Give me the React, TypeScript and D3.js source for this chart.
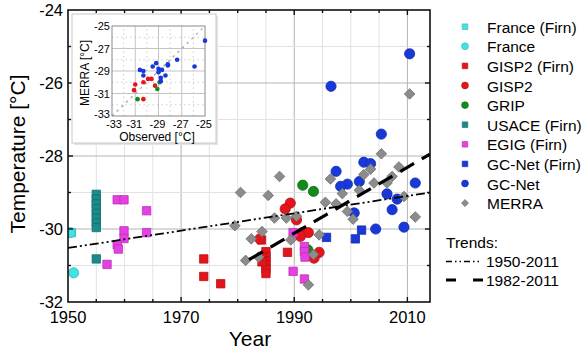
import React, { useEffect, useRef } from "react";
import * as d3 from "d3";

type Pt = [number, number];

// main plot: [year, temperature]
const franceFirn: Pt[] = [[1950.6, -30.1]];
const france: Pt[] = [[1950.4, -30.1], [1951.0, -31.2]];
const gisp2Firn: Pt[] = [
  [1974, -30.82], [1974, -31.3], [1977, -31.5], [1985, -30.62], [1985, -30.75],
  [1985, -30.87], [1985, -30.98], [1985, -31.1], [1985, -31.22], [1984.3, -30.77],
  [1984.3, -30.9], [1988.8, -30.64], [1984.2, -30.3],
];
const gisp2: Pt[] = [
  [1989.3, -29.29], [1988.4, -29.45], [1990.4, -29.75], [1991.4, -30.1], [1992.5, -30.1],
  [1991.1, -30.2], [1994.4, -30.64], [1993.5, -30.8], [1983.9, -30.27],
];
const grip: Pt[] = [[1991.5, -28.8], [1993.4, -28.97], [1992.4, -30.57]];
const usaceFirn: Pt[] = [
  [1955, -29.05], [1955, -29.18], [1955, -29.31], [1955, -29.44], [1955, -29.57],
  [1955, -29.7], [1955, -29.83], [1955, -29.96], [1955, -30.82],
];
const egigFirn: Pt[] = [
  [1958.7, -29.2], [1959.9, -29.2], [1963.9, -29.5], [1959.9, -30.05], [1963.9, -30.1],
  [1959.9, -30.26], [1958.7, -30.43], [1958.9, -30.55], [1956.9, -30.97],
  [1989.8, -30.1], [1991.8, -30.48], [1991.8, -30.62], [1991.9, -30.77], [1989.8, -31.16],
  [1991.8, -31.37],
];
const gcnetFirn: Pt[] = [[1995.7, -30.23], [2001.9, -30.03], [2000.8, -30.27]];
const gcnet: Pt[] = [
  [2010.4, -25.2], [1996.5, -26.09], [2005.4, -27.4], [2002.3, -28.17], [2003.5, -28.21],
  [1997.4, -28.42], [1999.4, -28.77], [1998.2, -28.83], [2001.5, -28.7], [2011.4, -28.74],
  [2006.4, -29.04], [2008.2, -29.18], [2007.3, -29.47], [2000.6, -29.56], [2004.4, -30.0],
  [2009.4, -29.95],
];
const merra: Pt[] = [
  [2010.4, -26.3], [2005.4, -27.94], [1987.4, -28.56], [1980.5, -29.0], [1985.4, -29.08],
  [1996.4, -28.63], [2002.3, -28.51], [2003.5, -28.36], [2007.3, -28.56], [2008.5, -28.3],
  [2006.4, -28.74], [2004.1, -28.74], [1998.5, -29.03], [2001.5, -28.94], [1995.5, -29.27],
  [1997.4, -29.31], [1999.4, -29.52], [2000.4, -29.73], [2009.4, -29.11], [2011.4, -29.67],
  [1986.5, -29.7], [1988.6, -29.7], [1990.4, -29.65], [1979.5, -29.91], [1984.3, -30.07],
  [1982.4, -30.27], [1989.4, -30.3], [1994.4, -30.16], [1981.4, -30.86], [1983.7, -30.77],
  [1993.4, -30.7], [1992.5, -31.53],
];
const trendAll: Pt[] = [[1950, -30.52], [2014, -29.0]];
const trendRecent: Pt[] = [[1982, -30.84], [2014, -27.95]];

// inset: [observed, MERRA]
const insetGcnet: Pt[] = [
  [-25.0, -26.3], [-25.9, -28.6], [-27.4, -28.0], [-28.2, -28.5], [-28.2, -28.4],
  [-29.2, -28.3], [-29.5, -28.6], [-29.0, -28.8], [-28.7, -28.9], [-29.0, -29.1],
  [-30.6, -28.9], [-30.3, -29.0], [-30.3, -29.4], [-28.8, -29.6], [-28.8, -29.9],
  [-28.4, -29.4],
];
const insetGisp2: Pt[] = [
  [-31.0, -30.2], [-30.3, -30.0], [-29.9, -29.7], [-29.6, -29.7], [-29.3, -30.3],
  [-30.3, -31.5], [-31.1, -30.7],
];
const insetGrip: Pt[] = [[-30.8, -31.5], [-29.1, -30.6], [-28.9, -30.0]];

const yearTicks = [1950, 1970, 1990, 2010];
const tempTicks = [-32, -30, -28, -26, -24];
const insetTicks = [-33, -31, -29, -27, -25];

const series = [
  { name: "France (Firn)", data: franceFirn, shape: "square", color: "#40e2e6" },
  { name: "France", data: france, shape: "circle", color: "#40e2e6" },
  { name: "GISP2 (Firn)", data: gisp2Firn, shape: "square", color: "#e3141c" },
  { name: "GISP2", data: gisp2, shape: "circle", color: "#e3141c" },
  { name: "GRIP", data: grip, shape: "circle", color: "#138a1c" },
  { name: "USACE (Firn)", data: usaceFirn, shape: "square", color: "#1b8a8a" },
  { name: "EGIG (Firn)", data: egigFirn, shape: "square", color: "#e63fe2" },
  { name: "GC-Net (Firn)", data: gcnetFirn, shape: "square", color: "#1838d8" },
  { name: "GC-Net", data: gcnet, shape: "circle", color: "#1838d8" },
  { name: "MERRA", data: merra, shape: "diamond", color: "#8c8c8c" },
];

const FONT = "'Liberation Sans', Arial, sans-serif";

const symbolPath = (shape: string, scale = 1) => {
  if (shape === "circle") return d3.symbol().type(d3.symbolCircle).size(82 * scale)()!;
  if (shape === "diamond") return d3.symbol().type(d3.symbolSquare).size(56 * scale)()!;
  return d3.symbol().type(d3.symbolSquare).size(70 * scale)()!;
};

const App = () => {
  const ref = useRef<SVGSVGElement>(null);

  useEffect(() => {
    drawChart();
  }, []);

  const drawChart = () => {
    const svg = d3.select(ref.current);
    svg.selectAll("*").remove();

    const left = 68, right = 430, top = 10, bottom = 302;
    const x = d3.scaleLinear().domain([1950, 2014]).range([left, right]);
    const y = d3.scaleLinear().domain([-32, -24]).range([bottom, top]);

    svg.append("rect").attr("width", 588).attr("height", 352).attr("fill", "#fff");

    // grid
    const grid = svg.append("g");
    d3.range(1955, 2014, 5).forEach((yr) => {
      grid.append("line")
        .attr("x1", x(yr)).attr("x2", x(yr)).attr("y1", top).attr("y2", bottom)
        .attr("stroke", yearTicks.includes(yr) ? "#b4b4b4" : "#e2e2e2").attr("stroke-width", 1);
    });
    d3.range(-31, -24, 1).forEach((t) => {
      grid.append("line")
        .attr("x1", left).attr("x2", right).attr("y1", y(t)).attr("y2", y(t))
        .attr("stroke", tempTicks.includes(t) ? "#b4b4b4" : "#e2e2e2").attr("stroke-width", 1);
    });

    svg.append("clipPath").attr("id", "plotClip")
      .append("rect").attr("x", left).attr("y", top).attr("width", right - left).attr("height", bottom - top);

    const plot = svg.append("g").attr("clip-path", "url(#plotClip)");

    // markers
    series.forEach((s) => {
      plot.append("g")
        .selectAll("path")
        .data(s.data)
        .join("path")
        .attr("d", symbolPath(s.shape))
        .attr("transform", (d) => `translate(${x(d[0])},${y(d[1])})${s.shape === "diamond" ? " rotate(45)" : ""}`)
        .attr("fill", s.color)
        .attr("stroke", d3.color(s.color)!.darker(0.6).toString())
        .attr("stroke-width", 0.8);
    });

    // trends
    const line = d3.line<Pt>().x((d) => x(d[0])).y((d) => y(d[1]));
    plot.append("path").attr("d", line(trendAll)).attr("fill", "none")
      .attr("stroke", "#000").attr("stroke-width", 1.8).attr("stroke-dasharray", "9,3,2,3,2,3");
    plot.append("path").attr("d", line(trendRecent)).attr("fill", "none")
      .attr("stroke", "#000").attr("stroke-width", 3.2).attr("stroke-dasharray", "16,9");

    // frame + ticks
    svg.append("rect").attr("x", left).attr("y", top).attr("width", right - left).attr("height", bottom - top)
      .attr("fill", "none").attr("stroke", "#111").attr("stroke-width", 1.6);
    const ticks = svg.append("g").attr("stroke", "#111").attr("stroke-width", 1.4);
    d3.range(1955, 2014, 5).forEach((yr) => {
      const len = yearTicks.includes(yr) ? 5 : 3;
      ticks.append("line").attr("x1", x(yr)).attr("x2", x(yr)).attr("y1", bottom).attr("y2", bottom - len);
      ticks.append("line").attr("x1", x(yr)).attr("x2", x(yr)).attr("y1", top).attr("y2", top + len);
    });
    d3.range(-31, -24, 1).forEach((t) => {
      const len = tempTicks.includes(t) ? 5 : 3;
      ticks.append("line").attr("x1", left).attr("x2", left + len).attr("y1", y(t)).attr("y2", y(t));
      ticks.append("line").attr("x1", right).attr("x2", right - len).attr("y1", y(t)).attr("y2", y(t));
    });

    // tick labels
    svg.append("g").selectAll("text").data(yearTicks).join("text")
      .attr("x", (d) => x(d)).attr("y", 323).attr("text-anchor", "middle")
      .attr("font-family", FONT).attr("font-size", 16.5).text((d) => d);
    svg.append("g").selectAll("text").data(tempTicks).join("text")
      .attr("x", 63).attr("y", (d) => y(d) + 6).attr("text-anchor", "end")
      .attr("font-family", FONT).attr("font-size", 16.5).text((d) => d);

    // axis titles
    svg.append("text").attr("x", 250).attr("y", 346).attr("text-anchor", "middle")
      .attr("font-family", FONT).attr("font-size", 21).text("Year");
    svg.append("text").attr("transform", "translate(25,154) rotate(-90)").attr("text-anchor", "middle")
      .attr("font-family", FONT).attr("font-size", 21).text("Temperature [°C]");

    // inset
    const ix = d3.scaleLinear().domain([-33, -25]).range([112, 205]);
    const iy = d3.scaleLinear().domain([-33, -25]).range([116, 26]);
    svg.append("rect").attr("x", 74).attr("y", 16).attr("width", 144).attr("height", 129).attr("fill", "#e4e4e4");
    svg.append("rect").attr("x", 72).attr("y", 14).attr("width", 144).attr("height", 129)
      .attr("fill", "#fff").attr("stroke", "#c8c8c8").attr("stroke-width", 1);
    const inset = svg.append("g");
    d3.range(-32, -25, 1).forEach((v) => {
      const major = insetTicks.includes(v);
      inset.append("line").attr("x1", ix(v)).attr("x2", ix(v)).attr("y1", iy(-33)).attr("y2", iy(-25))
        .attr("stroke", major ? "#c4c4c4" : "#cfcfcf").attr("stroke-dasharray", major ? null : "1.5,3");
      inset.append("line").attr("x1", ix(-33)).attr("x2", ix(-25)).attr("y1", iy(v)).attr("y2", iy(v))
        .attr("stroke", major ? "#c4c4c4" : "#cfcfcf").attr("stroke-dasharray", major ? null : "1.5,3");
    });
    inset.append("line").attr("x1", ix(-33)).attr("y1", iy(-33)).attr("x2", ix(-25)).attr("y2", iy(-25))
      .attr("stroke", "#a8a8a8").attr("stroke-width", 1.3).attr("stroke-dasharray", "2.5,4");
    inset.append("rect").attr("x", ix(-33)).attr("y", iy(-25)).attr("width", ix(-25) - ix(-33))
      .attr("height", iy(-33) - iy(-25)).attr("fill", "none").attr("stroke", "#8a8a8a").attr("stroke-width", 1);
    [
      { data: insetGisp2, color: "#e3141c" },
      { data: insetGrip, color: "#138a1c" },
      { data: insetGcnet, color: "#1838d8" },
    ].forEach((s) => {
      inset.append("g").selectAll("circle").data(s.data).join("circle")
        .attr("cx", (d) => ix(d[0])).attr("cy", (d) => iy(d[1])).attr("r", 2.3).attr("fill", s.color);
    });
    inset.append("g").selectAll("text").data(insetTicks).join("text")
      .attr("x", (d) => ix(d) + (d === -33 ? 2 : -1)).attr("y", 127.5).attr("text-anchor", "middle")
      .attr("font-family", FONT).attr("font-size", 11).text((d) => d);
    inset.append("g").selectAll("text").data(insetTicks).join("text")
      .attr("x", 110).attr("y", (d) => iy(d) + (d === -33 ? 2 : 4)).attr("text-anchor", "end")
      .attr("font-family", FONT).attr("font-size", 11).text((d) => d);
    inset.append("text").attr("x", 157).attr("y", 140.5).attr("text-anchor", "middle")
      .attr("font-family", FONT).attr("font-size", 12).text("Observed [°C]");
    inset.append("text").attr("transform", "translate(89,73) rotate(-90)").attr("text-anchor", "middle")
      .attr("font-family", FONT).attr("font-size", 12).text("MERRA [°C]");

    // legend
    const legend = svg.append("g").selectAll("g").data(series).join("g")
      .attr("transform", (d, i) => `translate(465,${26.7 + i * 19.6})`);
    legend.append("path")
      .attr("d", (d) => symbolPath(d.shape, 0.45))
      .attr("transform", (d) => (d.shape === "diamond" ? "rotate(45)" : ""))
      .attr("fill", (d) => d.color)
      .attr("stroke", (d) => d3.color(d.color)!.darker(0.6).toString())
      .attr("stroke-width", 0.6);
    legend.append("text").attr("x", 22).attr("y", 6)
      .attr("font-family", FONT).attr("font-size", 15.5).text((d) => d.name);

    svg.append("text").attr("x", 446).attr("y", 248).attr("font-family", FONT).attr("font-size", 15.5).text("Trends:");
    svg.append("line").attr("x1", 446).attr("x2", 481).attr("y1", 261.5).attr("y2", 261.5)
      .attr("stroke", "#000").attr("stroke-width", 1.6).attr("stroke-dasharray", "6,3,1.5,3,1.5,3");
    svg.append("text").attr("x", 486).attr("y", 267).attr("font-family", FONT).attr("font-size", 15.5).text("1950-2011");
    svg.append("line").attr("x1", 446).attr("x2", 483).attr("y1", 280).attr("y2", 280)
      .attr("stroke", "#000").attr("stroke-width", 3).attr("stroke-dasharray", "10,17");
    svg.append("text").attr("x", 486).attr("y", 285.5).attr("font-family", FONT).attr("font-size", 15.5).text("1982-2011");
  };

  return (
    <div style={{ position: "absolute", left: 0, top: 0 }}>
      <svg ref={ref} width={588} height={352} style={{ display: "block" }}></svg>
    </div>
  );
};

export default App;
